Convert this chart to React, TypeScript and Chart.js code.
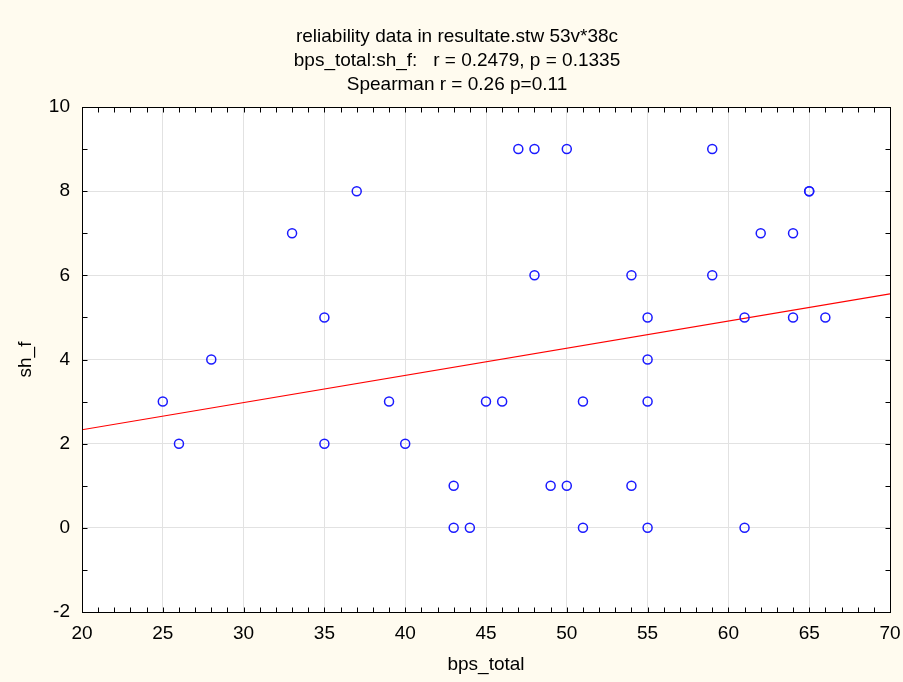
import React, { useEffect, useRef } from "react";
import { Chart, registerables } from "chart.js";

Chart.register(...registerables);

const titleLines = [
  "reliability data in resultate.stw 53v*38c",
  "bps_total:sh_f:   r = 0.2479, p = 0.1335",
  "Spearman r = 0.26 p=0.11",
];
const xLabel = "bps_total";
const yLabel = "sh_f";

const bpsTotal = [25, 26, 28, 33, 35, 35, 37, 39, 40, 43, 43, 44, 45, 46, 47, 48, 48, 49, 50, 50, 51, 51, 54, 54, 55, 55, 55, 55, 59, 59, 61, 61, 62, 64, 64, 65, 65, 66];
const shF = [3, 2, 4, 7, 5, 2, 8, 3, 2, 1, 0, 0, 3, 3, 9, 9, 6, 1, 9, 1, 3, 0, 6, 1, 5, 4, 3, 0, 9, 6, 5, 0, 7, 7, 5, 8, 8, 5];

const fitX = [20, 70];
const fitY = [2.33, 5.56];

const xRange = [20, 70];
const yRange = [-2, 10];
const xStep = 5;
const yStep = 2;
const minorStep = 1;

const FONT = "'Liberation Sans', Arial, sans-serif";
const CREAM = "#FFFBEF";
const W = 903;
const H = 682;

const framePlugin = {
  id: "frame",
  beforeDraw(chart: any) {
    const { ctx, chartArea: a } = chart;
    ctx.save();
    ctx.fillStyle = "#ffffff";
    ctx.fillRect(a.left, a.top, a.right - a.left, a.bottom - a.top);
    ctx.restore();
  },
  afterDraw(chart: any) {
    const { ctx, chartArea: a, scales } = chart;
    const xs = scales.x;
    const ys = scales.y;
    const L = Math.round(a.left) + 0.5;
    const R = Math.round(a.right) + 0.5;
    const T = Math.round(a.top) + 0.5;
    const B = Math.round(a.bottom) + 0.5;
    const len = 5;
    ctx.save();
    ctx.strokeStyle = "#000";
    ctx.lineWidth = 1;
    ctx.beginPath();
    for (let v = xs.min; v <= xs.max + 1e-9; v += minorStep) {
      const p = Math.round(xs.getPixelForValue(v)) + 0.5;
      ctx.moveTo(p, B);
      ctx.lineTo(p, B - len);
      ctx.moveTo(p, T);
      ctx.lineTo(p, T + len);
    }
    for (let v = ys.min; v <= ys.max + 1e-9; v += minorStep) {
      const p = Math.round(ys.getPixelForValue(v)) + 0.5;
      ctx.moveTo(L, p);
      ctx.lineTo(L + len, p);
      ctx.moveTo(R, p);
      ctx.lineTo(R - len, p);
    }
    ctx.stroke();
    ctx.strokeRect(L, T, R - L, B - T);
    ctx.restore();
  },
};

export default function App() {
  const ref = useRef<HTMLCanvasElement | null>(null);

  useEffect(() => {
    document.body.style.margin = "0";
    document.body.style.background = CREAM;
    if (!ref.current) return;
    const points = bpsTotal.map((x, i) => ({ x, y: shF[i] }));
    const fit = fitX.map((x, i) => ({ x, y: fitY[i] }));
    const chart = new Chart(ref.current, {
      type: "scatter",
      data: {
        datasets: [
          {
            type: "scatter",
            data: points,
            pointStyle: "circle",
            pointRadius: 4.5,
            pointHoverRadius: 4.5,
            borderColor: "#1a1aff",
            backgroundColor: "rgba(0,0,0,0)",
            pointBorderWidth: 1.5,
            order: 0,
          } as any,
          {
            type: "line",
            data: fit,
            borderColor: "#ff0000",
            borderWidth: 1.2,
            pointRadius: 0,
            fill: false,
            order: 1,
          } as any,
        ],
      },
      options: {
        animation: false,
        responsive: false,
        maintainAspectRatio: false,
        layout: { padding: { left: 24, right: 13, top: 0, bottom: 0 } },
        plugins: {
          legend: { display: false },
          tooltip: { enabled: false },
          title: {
            display: true,
            text: titleLines,
            color: "#000",
            font: { family: FONT, size: 19, weight: "normal", lineHeight: 24 / 19 },
            padding: { top: 25, bottom: 10 },
          },
        },
        scales: {
          x: {
            type: "linear",
            min: xRange[0],
            max: xRange[1],
            afterFit: (s: any) => {
              s.height = 70;
              s.paddingLeft = 0;
              s.paddingRight = 0;
            },
            ticks: {
              stepSize: xStep,
              color: "#000",
              padding: 10,
              font: { family: FONT, size: 19 },
              maxRotation: 0,
            },
            grid: {
              color: "#e2e2e2",
              lineWidth: 1,
              drawTicks: false,
            },
            border: { color: "#000", width: 1 },
            title: {
              display: true,
              text: xLabel,
              color: "#000",
              font: { family: FONT, size: 19 },
              padding: { top: 0, bottom: 6 },
            },
          },
          y: {
            type: "linear",
            min: yRange[0],
            max: yRange[1],
            afterFit: (s: any) => {
              s.width = 58;
              s.paddingTop = 0;
              s.paddingBottom = 0;
            },
            ticks: {
              stepSize: yStep,
              color: "#000",
              padding: 12,
              font: { family: FONT, size: 19 },
            },
            grid: {
              color: "#e2e2e2",
              lineWidth: 1,
              drawTicks: false,
            },
            border: { color: "#000", width: 1 },
            title: {
              display: true,
              text: yLabel,
              color: "#000",
              font: { family: FONT, size: 19 },
              padding: { top: -10, bottom: 0 },
            },
          },
        },
      },
      plugins: [framePlugin],
    });
    return () => chart.destroy();
  }, []);

  return (
    <div style={{ width: W, height: H, background: CREAM }}>
      <canvas ref={ref} width={W} height={H} style={{ display: "block" }} />
    </div>
  );
}
